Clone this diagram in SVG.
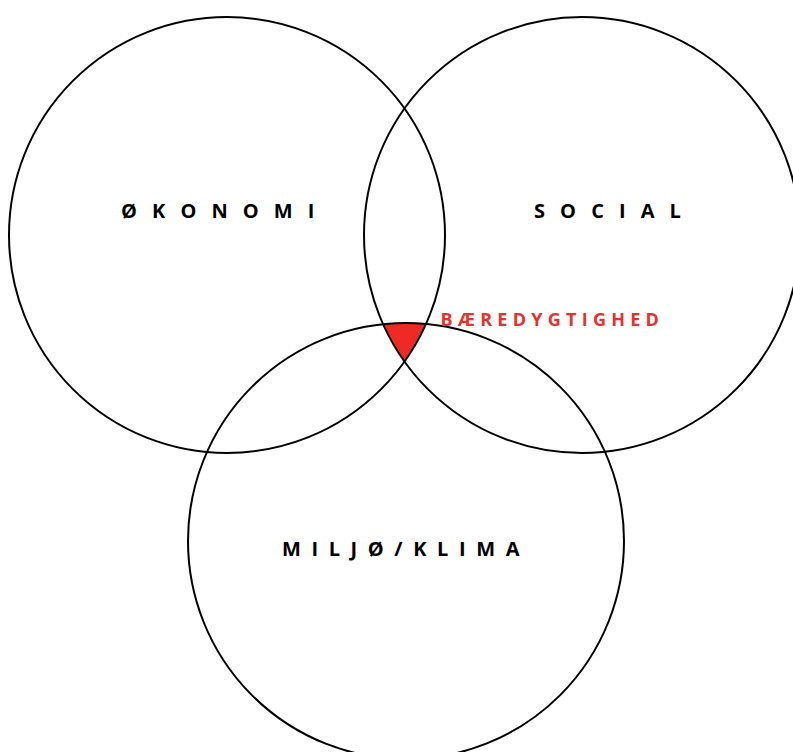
<svg xmlns="http://www.w3.org/2000/svg" width="793" height="752" viewBox="0 0 793 752">
<style>
.ring{fill:none;stroke:#000;stroke-width:2}
.lbl{font-family:"Open Sans","Liberation Sans",sans-serif;font-weight:bold;font-size:20px;fill:#000}
.core{font-family:"Open Sans","Liberation Sans",sans-serif;font-weight:bold;font-size:18px;fill:#E8312A}
</style>
<rect width="793" height="752" fill="#fff"/>
<g id="baeredygtighed-area">
<path d="M383.05 324.1 A218 218 0 0 1 426 324 A218 218 0 0 1 404.5 361.56 A218 218 0 0 1 383.05 324.1 Z" fill="#EE2A24"/>
</g>
<g id="connectors">
<circle id="okonomi" class="ring" cx="227" cy="235" r="218"/>
<circle id="social" class="ring" cx="582" cy="235" r="218"/>
<circle id="miljo" class="ring" cx="406" cy="541" r="218"/>
</g>
<g id="node-okonomi"><text class="lbl" x="121" y="217.5" letter-spacing="15.1">ØKONOMI</text></g>
<g id="node-social"><text class="lbl" x="534" y="217.5" letter-spacing="15.1">SOCIAL</text></g>
<g id="node-miljo"><text class="lbl" x="282" y="556" letter-spacing="10.6">MILJØ/KLIMA</text></g>
<g id="node-baeredygtighed"><text class="core" x="440.5" y="326" letter-spacing="5.25">BÆREDYGTIGHED</text></g>
</svg>
